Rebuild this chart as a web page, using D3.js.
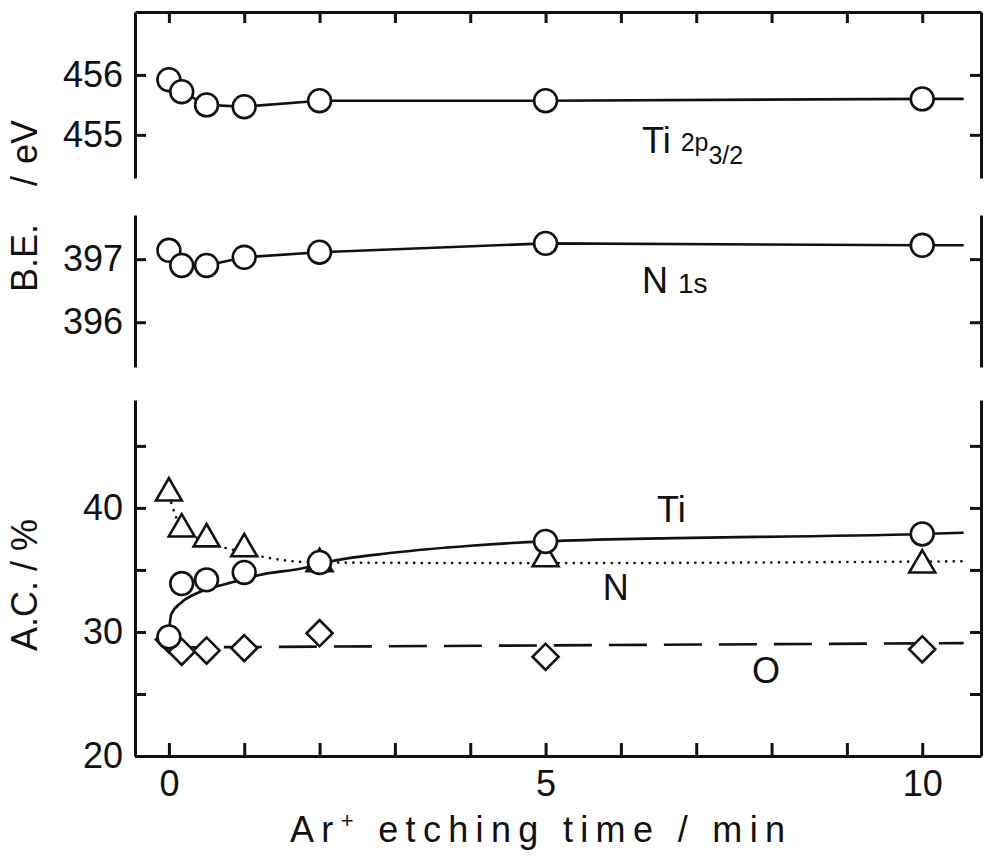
<!DOCTYPE html>
<html>
<head>
	<meta charset="utf-8">
	<script type="text/javascript" src="https://cdn.jsdelivr.net/npm/d3@7/dist/d3.min.js"></script>
	<title>Ar+ etching - TiN XPS</title>
	<style>
		body { margin: 0; background: #fff; }
		text { font-family: "Liberation Sans", Arial, sans-serif; fill: #111; }
	</style>
</head>
<body>
	<script type="text/javascript">

	// etching time (min) of every measurement
	var etchTime = [0, 0.17, 0.5, 1, 2, 5, 10];

	// binding energies, eV
	var ti2pBE = [455.92, 455.72, 455.5, 455.47, 455.57, 455.57, 455.6];
	var n1sBE  = [397.14, 396.9, 396.9, 397.03, 397.11, 397.25, 397.22];

	// atomic concentrations, %
	var tiAC = [29.6, 33.9, 34.2, 34.8, 35.6, 37.3, 37.9];
	var nAC  = [41.2, 38.3, 37.5, 36.7, 35.5, 35.9, 35.4];
	var oAC  = [29.4, 28.4, 28.5, 28.7, 29.9, 28.0, 28.6];

	// guide curves drawn through the A.C. points
	var tiFitTime = [0, 0.03, 0.17, 0.4, 0.84, 1.2, 1.82, 2, 3, 4, 5, 10, 10.55];
	var tiFitAC   = [29.9, 31.4, 32.4, 33.2, 34.0, 34.6, 35.2, 35.5, 36.4, 36.95, 37.3, 37.9, 38.0];
	var nFitTime  = [0, 0.17, 0.5, 1, 1.5, 2, 5, 10.6];
	var nFitAC    = [41.0, 38.4, 37.3, 36.4, 35.8, 35.6, 35.55, 35.7];
	var oFitTime  = [0, 10.55];
	var oFitAC    = [28.75, 29.1];

	var lineEnd = 10.55;   // BE lines run a bit past the last point

	var xTicks = [0, 1, 2, 3, 4, 5, 6, 7, 8, 9, 10];
	var xLabels = [0, 5, 10];
	var tiTicks = [455, 456];
	var nTicks = [396, 397];
	var acTicks = [20, 25, 30, 35, 40, 45];
	var acLabels = [20, 30, 40];

	var widthSvg = 985;
	var heightSvg = 856;
	var fontSize = 36;
	var ink = "#111";

	var svg = d3.select("body")
		.append("svg")
		.attr("width", widthSvg)
		.attr("height", heightSvg);

	var xScale = d3.scaleLinear().domain([-0.45, 10.78]).range([135, 981]);
	var yTop = d3.scaleLinear().domain([454.28, 457.05]).range([178, 12]);
	var yMid = d3.scaleLinear().domain([395.29, 397.7]).range([367, 215]);
	var yBot = d3.scaleLinear().domain([20, 48.7]).range([756, 400]);

	function styleAxis(g) {
		g.selectAll("path, line").attr("stroke", ink).attr("stroke-width", 3);
		g.selectAll("text").attr("font-size", fontSize).attr("fill", ink)
			.attr("font-family", "Liberation Sans, Arial, sans-serif");
	}

	function leftAxis(y, ticks, labels) {
		var g = svg.append("g").attr("transform", "translate(" + xScale.range()[0] + ",0)")
			.call(d3.axisLeft(y).tickValues(ticks).tickSize(-11).tickSizeOuter(0).tickPadding(12)
				.tickFormat(function(d) { return labels.indexOf(d) >= 0 ? d : ""; }));
		styleAxis(g);
	}

	function rightAxis(y, ticks) {
		var g = svg.append("g").attr("transform", "translate(" + xScale.range()[1] + ",0)")
			.call(d3.axisRight(y).tickValues(ticks).tickSize(-11).tickSizeOuter(0).tickFormat(""));
		styleAxis(g);
	}

	// frames
	leftAxis(yTop, tiTicks, tiTicks);
	rightAxis(yTop, tiTicks);
	leftAxis(yMid, nTicks, nTicks);
	rightAxis(yMid, nTicks);
	leftAxis(yBot, acTicks, acLabels);
	rightAxis(yBot, acTicks);

	var topAxis = svg.append("g").attr("transform", "translate(0," + yTop.range()[1] + ")")
		.call(d3.axisTop(xScale).tickValues(xTicks).tickSize(-11).tickSizeOuter(0).tickFormat(""));
	styleAxis(topAxis);

	var bottomAxis = svg.append("g").attr("transform", "translate(0," + yBot.range()[0] + ")")
		.call(d3.axisBottom(xScale).tickValues(xTicks).tickSize(-13).tickSizeOuter(0).tickPadding(14)
			.tickFormat(function(d) { return xLabels.indexOf(d) >= 0 ? d : ""; }));
	styleAxis(bottomAxis);

	// lines
	function drawLine(xs, ys, y, dash, curve) {
		var pts = xs.map(function(d, i) { return [d, ys[i]]; });
		var line = d3.line()
			.x(function(d) { return xScale(d[0]); })
			.y(function(d) { return y(d[1]); })
			.curve(curve || d3.curveLinear);
		svg.append("path")
			.attr("d", line(pts))
			.attr("fill", "none")
			.attr("stroke", ink)
			.attr("stroke-width", 2.6)
			.attr("stroke-linecap", dash === "dot" ? "round" : "butt")
			.attr("stroke-dasharray", dash === "dot" ? "0.1,7.5" : dash);
	}

	drawLine(etchTime.concat([lineEnd]), ti2pBE.concat([ti2pBE[ti2pBE.length - 1]]), yTop, null);
	drawLine(etchTime.concat([lineEnd]), n1sBE.concat([n1sBE[n1sBE.length - 1]]), yMid, null);
	drawLine(oFitTime, oFitAC, yBot, "38,17");
	drawLine(nFitTime, nFitAC, yBot, "dot", d3.curveMonotoneX);
	drawLine(tiFitTime, tiFitAC, yBot, null, d3.curveMonotoneX);

	// markers
	function drawMarkers(values, y, type, size, rot) {
		var sym = d3.symbol().type(type).size(size);
		svg.append("g").selectAll("path")
			.data(values)
			.enter()
			.append("path")
			.attr("d", sym())
			.attr("transform", function(d, i) {
				return "translate(" + xScale(etchTime[i]) + "," + y(d) + ") rotate(" + rot + ")";
			})
			.attr("fill", "#fff")
			.attr("stroke", ink)
			.attr("stroke-width", 2.6);
	}

	drawMarkers(ti2pBE, yTop, d3.symbolCircle, 410, 0);
	drawMarkers(n1sBE, yMid, d3.symbolCircle, 410, 0);
	drawMarkers(oAC, yBot, d3.symbolSquare, 340, 45);
	drawMarkers(nAC, yBot, d3.symbolTriangle, 290, 0);
	drawMarkers(tiAC, yBot, d3.symbolCircle, 410, 0);

	// series labels
	var tiLabel = svg.append("text")
		.attr("x", xScale(6.28)).attr("y", yTop(454.7))
		.attr("font-size", fontSize);
	tiLabel.append("tspan").text("Ti ");
	tiLabel.append("tspan").attr("font-size", 25).attr("dy", -2).text("2p");
	tiLabel.append("tspan").attr("font-size", 25).attr("dy", 13).text("3/2");

	var nLabel = svg.append("text")
		.attr("x", xScale(6.28)).attr("y", yMid(396.47))
		.attr("font-size", fontSize);
	nLabel.append("tspan").text("N ");
	nLabel.append("tspan").attr("font-size", 28).text("1s");

	svg.append("text").attr("x", xScale(6.48)).attr("y", yBot(38.87))
		.attr("font-size", fontSize).text("Ti");
	svg.append("text").attr("x", xScale(5.76)).attr("y", yBot(32.6))
		.attr("font-size", fontSize).text("N");
	svg.append("text").attr("x", xScale(7.74)).attr("y", yBot(25.9))
		.attr("font-size", fontSize).text("O");

	// axis titles
	var xTitle = svg.append("text")
		.attr("x", 290).attr("y", 842)
		.attr("font-size", 36)
		.attr("textLength", 495)
		.attr("lengthAdjust", "spacing");
	xTitle.append("tspan").text("Ar");
	xTitle.append("tspan").attr("font-size", 22).attr("dy", -14).text("+");
	xTitle.append("tspan").attr("dy", 14).text(" etching  time  /  min");

	var beTitle = svg.append("text")
		.attr("transform", "translate(37,292) rotate(-90)")
		.attr("font-size", 36);
	beTitle.append("tspan").text("B.E.");
	beTitle.append("tspan").attr("dx", 38).text("/");
	beTitle.append("tspan").attr("dx", 12).text("eV");

	svg.append("text")
		.attr("transform", "translate(37,585) rotate(-90)")
		.attr("text-anchor", "middle")
		.attr("font-size", 36)
		.text("A.C.  / %");

	</script>
</body>
</html>
